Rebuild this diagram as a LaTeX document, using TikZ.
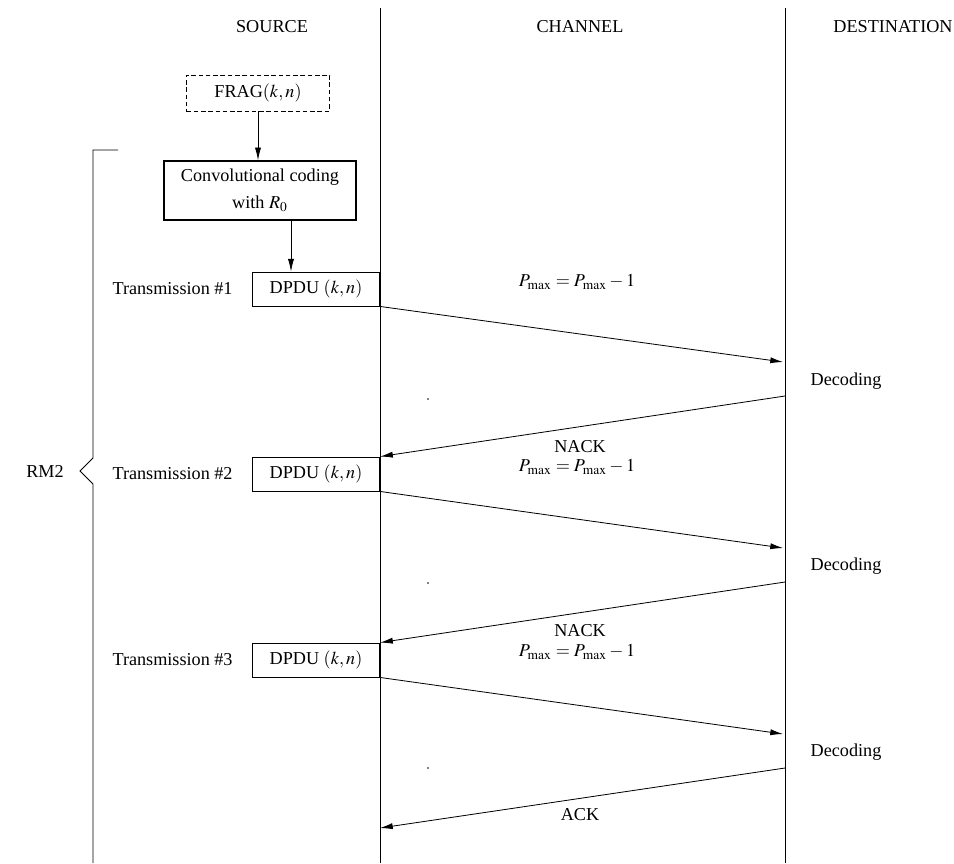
\documentclass[tikz,border=0pt]{standalone}
\usepackage{mathptmx}
\usepackage[no-math]{fontspec}
\setmainfont{Liberation Serif}
\usetikzlibrary{arrows.meta}

\tikzset{
	msg/.style={-{Latex[length=7pt,width=3.4pt]}, line width=0.45pt},
	pdubox/.style={draw, line width=0.5pt, minimum width=70pt, minimum height=18.7pt, inner sep=0pt},
	lbl/.style={inner sep=0pt}
}

\begin{document}
\begin{tikzpicture}[x=0.55pt, y=-0.55pt, line width=0.45pt]
	\useasboundingbox (0,0) rectangle (954,863);
	
	%fejlécek
	\node[lbl] (src) at (272,27) {SOURCE};
	\node[lbl] (chn) at (580,27) {CHANNEL};
	\node[lbl] (dst) at (893,27) {DESTINATION};
	
	%függőleges vonalak
	\coordinate (stop) at (380,8);
	\coordinate (sbot) at (380,863);
	\coordinate (dtop) at (785,8);
	\coordinate (dbot) at (785,863);
	\draw (stop)--(sbot);
	\draw (dtop)--(dbot);
	
	%kapcsos zárójel
	\draw (118,150)--(93,150)--(93,458)--(80,471)--(93,484)--(93,863);
	\node[lbl] (rm) at (45,471) {RM2};
	
	%dobozok
	\node[draw, dash pattern=on 2.5pt off 1.5pt, minimum width=78.7pt, minimum height=19.8pt, inner sep=0pt] (frag) at (258,93) {FRAG$(k,n)$};
	\node[draw, line width=0.8pt, minimum width=105.6pt, minimum height=32.5pt, inner sep=0pt, align=center] (conv) at (260,190.5) {Convolutional coding\\[3pt]with $R_0$};
	\node[pdubox] (pdu1) at (316,289) {DPDU $(k,n)$};
	\node[pdubox] (pdu2) at (316,474) {DPDU $(k,n)$};
	\node[pdubox] (pdu3) at (316,660) {DPDU $(k,n)$};
	
	\draw[msg] (frag.south)--(conv.north -| frag.south);
	\draw[msg] (conv.south -| 291,0)--(pdu1.north -| 291,0);
	
	%adások
	\node[lbl, anchor=east] (tr1) at (233,289) {Transmission \#1};
	\node[lbl, anchor=east] (tr2) at (233,474) {Transmission \#2};
	\node[lbl, anchor=east] (tr3) at (233,660) {Transmission \#3};
	
	%nyilak
	\coordinate (a1) at (783,362);
	\coordinate (b1) at (785,396);
	\coordinate (a2) at (783,548);
	\coordinate (b2) at (785,582);
	\coordinate (a3) at (783,734);
	\coordinate (b3) at (785,768);
	\coordinate (c3) at (380,828);
	
	\draw[msg] (pdu1.south east)--(a1);
	\draw[msg] (b1)--(pdu2.north east);
	\draw[msg] (pdu2.south east)--(a2);
	\draw[msg] (b2)--(pdu3.north east);
	\draw[msg] (pdu3.south east)--(a3);
	\draw[msg] (b3)--(c3);
	
	%feliratok
	\node[lbl] (p1) at (577,282) {$P_{\max}=P_{\max}-1$};
	\node[lbl] (p2) at (577,467) {$P_{\max}=P_{\max}-1$};
	\node[lbl] (p3) at (577,652) {$P_{\max}=P_{\max}-1$};
	\node[lbl] (dec1) at (846,381) {Decoding};
	\node[lbl] (dec2) at (846,566) {Decoding};
	\node[lbl] (dec3) at (846,752) {Decoding};
	\node[lbl] (n1) at (580,447) {NACK};
	\node[lbl] (n2) at (580,631) {NACK};
	\node[lbl] (ack) at (580,815) {ACK};
	
	%pontok
	\fill (428,399) circle (0.8);
	\fill (428,583) circle (0.8);
	\fill (428,768) circle (0.8);
	
\end{tikzpicture}
\end{document}
